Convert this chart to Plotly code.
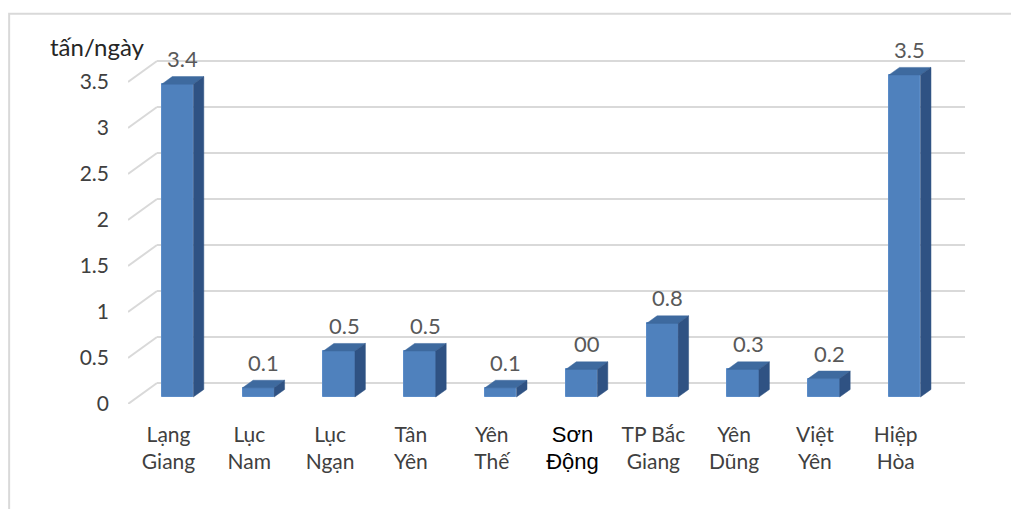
import plotly.graph_objects as go

# Daily volume per district (tấn/ngày)
districts = ["Lạng Giang", "Lục Nam", "Lục Ngạn", "Tân Yên", "Yên Thế",
             "Sơn Động", "TP Bắc Giang", "Yên Dũng", "Việt Yên", "Hiệp Hòa"]
tick_text = ["Lạng<br>Giang", "Lục<br>Nam", "Lục<br>Ngạn", "Tân<br>Yên", "Yên<br>Thế",
             "<span style='font-family:Liberation Sans;font-size:22px;color:#000000'>Sơn</span><br>"
             "<span style='font-family:Liberation Sans;font-size:22px;color:#000000'>Động</span>",
             "TP Bắc<br>Giang", "Yên<br>Dũng", "Việt<br>Yên", "Hiệp<br>Hòa"]
values = [3.4, 0.1, 0.5, 0.5, 0.1, 0.3, 0.8, 0.3, 0.2, 3.5]
value_labels = ["3.4", "0.1", "0.5", "0.5", "0.1", "00", "0.8", "0.3", "0.2", "3.5"]
y_ticks = [0, 0.5, 1, 1.5, 2, 2.5, 3, 3.5]
y_tick_text = ["0", "0.5", "1", "1.5", "2", "2.5", "3", "3.5"]

# pseudo-3D geometry (in axis units)
BAR_W = 0.39          # front face width
DX, DY = 0.13, 0.082  # bar depth offset (right / up)
WALL_DY = 0.152       # back wall lift
AXIS_DY = -0.076      # front axis plane drop
WALL_X0 = -0.254      # back wall left edge
X_MIN, X_MAX = -0.613, 9.746
Y_MIN, Y_MAX = -0.076, 3.880

FRONT = "#4F81BD"
TOP = "#3E6A9F"
SIDE = "#2F5283"
GRID = "#D9D9D9"
TXT = "#404040"
FONT = "Lato"

xs = list(range(len(districts)))
fig = go.Figure()

# back-wall gridlines plus diagonal side-wall connectors
shapes = []
for v in y_ticks:
    shapes.append(dict(type="line", xref="x", yref="y", layer="below",
                       x0=WALL_X0, x1=X_MAX, y0=v + WALL_DY, y1=v + WALL_DY,
                       line=dict(color=GRID, width=2)))
    shapes.append(dict(type="line", xref="x", yref="y", layer="below",
                       x0=X_MIN, x1=WALL_X0, y0=v + AXIS_DY, y1=v + WALL_DY,
                       line=dict(color=GRID, width=2)))
# outer frame
shapes.append(dict(type="rect", xref="paper", yref="paper",
                   x0=-0.142, x1=1.2, y0=-0.5, y1=1.072,
                   line=dict(color="#D9D9D9", width=2), layer="below"))

# front faces
fig.add_trace(go.Bar(x=xs, y=values, width=BAR_W, marker=dict(color=FRONT,
                     line=dict(color="#5B8CC8", width=1)),
                     hoverinfo="skip", showlegend=False))

# top and side faces
for x, v in zip(xs, values):
    l, r = x - BAR_W / 2, x + BAR_W / 2
    fig.add_trace(go.Scatter(
        x=[l, l + DX, r + DX, r, l], y=[v, v + DY, v + DY, v, v],
        fill="toself", fillcolor=TOP, mode="lines",
        line=dict(color=TOP, width=0.5), hoverinfo="skip", showlegend=False))
    fig.add_trace(go.Scatter(
        x=[r, r + DX, r + DX, r, r], y=[0, DY, v + DY, v, 0],
        fill="toself", fillcolor=SIDE, mode="lines",
        line=dict(color=SIDE, width=0.5), hoverinfo="skip", showlegend=False))

annotations = []
for x, v, t in zip(xs, values, value_labels):
    annotations.append(dict(x=x + DX / 2, y=v + DY, xref="x", yref="y", text=t,
                            showarrow=False, yanchor="middle", yshift=18,
                            font=dict(family=FONT, size=22, color="#595959")))
annotations.append(dict(x=-0.036, y=0.981, xref="paper", yref="paper",
                        text="tấn/ngày", showarrow=False,
                        xanchor="center", yanchor="middle",
                        font=dict(family=FONT, size=24, color="#262626")))

fig.update_layout(
    width=1011, height=509,
    margin=dict(l=128, r=46, t=40, b=105),
    paper_bgcolor="white", plot_bgcolor="white",
    shapes=shapes, annotations=annotations,
    xaxis=dict(range=[X_MIN, X_MAX], tickvals=xs, ticktext=tick_text,
               showgrid=False, zeroline=False, showline=False, ticks="",
               ticklabelshift=-9, ticklabelstandoff=16,
               tickfont=dict(family=FONT, size=21, color=TXT)),
    yaxis=dict(range=[Y_MIN, Y_MAX], tickvals=y_ticks, ticktext=y_tick_text,
               showgrid=False, zeroline=False, showline=False, ticks="",
               ticklabelshift=7, ticklabelstandoff=18,
               tickfont=dict(family=FONT, size=21, color=TXT)),
    bargap=0,
)

fig.write_html("out.html")
